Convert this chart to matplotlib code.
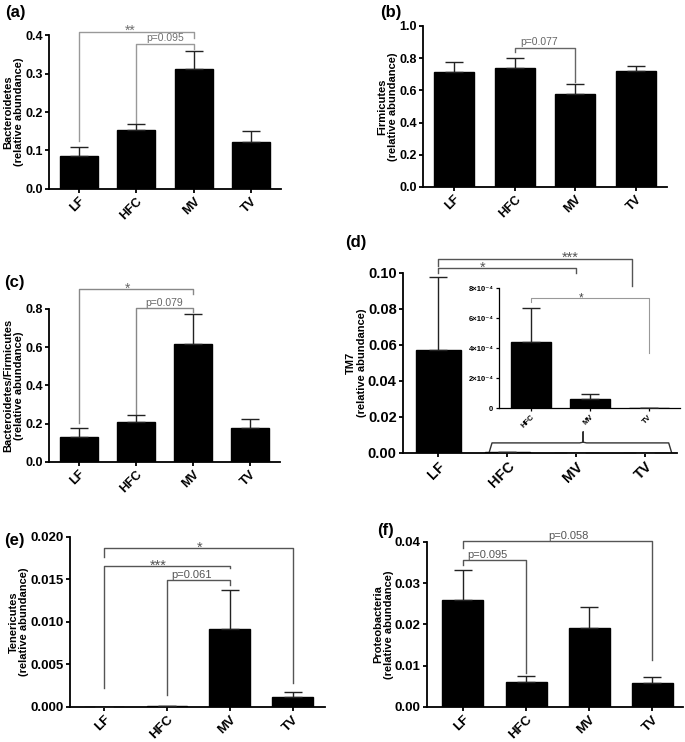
import matplotlib
matplotlib.use("Agg")
import matplotlib.pyplot as plt

plt.rcParams['font.family'] = ['Liberation Sans', 'DejaVu Sans']

groups = ["LF", "HFC", "MV", "TV"]
inset_groups = ["HFC", "MV", "TV"]

# relative abundances (mean) and upper error (SEM)
bacteroidetes = [0.087, 0.152, 0.311, 0.123]
bacteroidetes_err = [0.022, 0.016, 0.047, 0.027]

firmicutes = [0.715, 0.742, 0.578, 0.720]
firmicutes_err = [0.060, 0.058, 0.064, 0.030]

ratio_bf = [0.133, 0.210, 0.617, 0.180]
ratio_bf_err = [0.045, 0.035, 0.155, 0.046]

tm7 = [0.057, 0.00044, 0.00006, 0.0]
tm7_err = [0.0406, 0.00023, 0.000035, 0.0]

tm7_inset = [0.00044, 0.00006, 0.0]
tm7_inset_err = [0.00023, 0.000035, 0.0]

tenericutes = [0.0, 0.0001, 0.0092, 0.0012]
tenericutes_err = [0.0, 0.00003, 0.0046, 0.0006]

proteobacteria = [0.0259, 0.0060, 0.0191, 0.0058]
proteobacteria_err = [0.0073, 0.0015, 0.0052, 0.0014]

# brackets: (x1, x2, y, leg1 bottom, leg2 bottom, label, label x)
brackets_a = [(0, 2, 0.409, 0.125, 0.392, "**", 0.9),
              (1, 2, 0.377, 0.171, 0.363, "p=0.095", 1.5)]
brackets_b = [(1, 2, 0.865, 0.84, 0.655, "p=0.077", 1.4)]
brackets_c = [(0, 2, 0.905, 0.204, 0.88, "*", 0.85),
              (1, 2, 0.805, 0.245, 0.785, "p=0.079", 1.5)]
brackets_d = [(0, 2, 0.1028, 0.1, 0.1, "*", 0.64),
              (0, 2.81, 0.108, 0.104, 0.093, "***", 1.91)]
brackets_inset = [(0, 2, 0.000733, 0.00071, 0.000367, "*", 0.85)]
brackets_e = [(0, 3, 0.0187, 0.01765, 0.0028, "*", 1.52),
              (0, 2, 0.0166, 0.0022, 0.0163, "***", 0.86),
              (1, 2, 0.0149, 0.0014, 0.0143, "p=0.061", 1.39)]
brackets_f = [(0, 3, 0.0402, 0.0385, 0.0114, "p=0.058", 1.68),
              (0, 1, 0.0356, 0.0344, 0.0082, "p=0.095", 0.38)]


def draw_brackets(ax, brackets, color, fs, text_color=None, lw=1.0):
    tc = text_color or color
    for x1, x2, y, b1, b2, label, lx in brackets:
        ax.plot([x1, x1, x2, x2], [b1, y, y, b2], color=color, lw=lw, clip_on=False)
        if label.startswith("*"):
            # asterisks sit high in the font, so anchor them on the baseline
            ax.annotate(label, (lx, y), xytext=(0, -2.5), textcoords="offset points",
                        ha="center", va="baseline", fontsize=fs + 2.5, color=tc,
                        annotation_clip=False)
        else:
            ax.annotate(label, (lx, y), xytext=(0, 0.3), textcoords="offset points",
                        ha="center", va="bottom", fontsize=fs, color=tc,
                        annotation_clip=False)


def bar_panel(ax, values, errs, xlim, ylim, yticks, fmt, ylabel, labels=groups,
              width=0.66, tick_fs=9, spine_lw=1.3):
    x = list(range(len(values)))
    ax.bar(x, values, width=width, color="black", edgecolor="black", zorder=2)
    ax.errorbar(x, values, yerr=[[0] * len(errs), errs], fmt="none", ecolor="#222222",
                elinewidth=1.0, capsize=6.5, capthick=1.0, zorder=3)
    ax.set_xlim(*xlim)
    ax.set_ylim(*ylim)
    ax.set_yticks(yticks)
    ax.set_yticklabels([fmt.format(t) for t in yticks], fontsize=tick_fs, fontweight="bold")
    ax.set_xticks(x)
    ax.set_xticklabels(labels, rotation=45, ha="right", rotation_mode="anchor",
                       fontsize=tick_fs, fontweight="bold")
    for s in ["top", "right"]:
        ax.spines[s].set_visible(False)
    for s in ["left", "bottom"]:
        ax.spines[s].set_linewidth(spine_lw)
    ax.tick_params(width=spine_lw, length=3, pad=1.5)
    if ylabel:
        ax.set_ylabel(ylabel, fontsize=8, fontweight="bold", labelpad=0.8,
                      linespacing=1.05)


fig = plt.figure(figsize=(6.85, 7.42), dpi=100)

# (a)
ax_a = fig.add_axes([0.0715, 0.7453, 0.3387, 0.2075])
bar_panel(ax_a, bacteroidetes, bacteroidetes_err, (-0.52, 3.52), (0, 0.4),
          [0, 0.1, 0.2, 0.3, 0.4], "{:.1f}", "Bacteroidetes\n(relative abundance)")
draw_brackets(ax_a, brackets_a, "#999999", 7.5, text_color="#707070")

# (b)
ax_b = fig.add_axes([0.6175, 0.748, 0.3562, 0.217])
bar_panel(ax_b, firmicutes, firmicutes_err, (-0.51, 3.51), (0, 1.0),
          [0, 0.2, 0.4, 0.6, 0.8, 1.0], "{:.1f}", "Firmicutes\n(relative abundance)")
draw_brackets(ax_b, brackets_b, "#666666", 7.5)

# (c)
ax_c = fig.add_axes([0.0715, 0.3774, 0.3372, 0.2062])
bar_panel(ax_c, ratio_bf, ratio_bf_err, (-0.52, 3.52), (0, 0.8),
          [0, 0.2, 0.4, 0.6, 0.8], "{:.1f}", "Bacteroidetes/Firmicutes\n(relative abundance)")
draw_brackets(ax_c, brackets_c, "#888888", 7.5, text_color="#666666")

# (d)
ax_d = fig.add_axes([0.5883, 0.3895, 0.40, 0.2426])
bar_panel(ax_d, tm7, tm7_err, (-0.51, 3.46), (0, 0.10),
          [0, 0.02, 0.04, 0.06, 0.08, 0.10], "{:.2f}", "TM7\n(relative abundance)",
          width=0.65, tick_fs=10.5)
draw_brackets(ax_d, brackets_d, "#555555", 8)
# brace under the inset
bx = [0.74, 0.78, 2.05, 2.1, 2.1, 2.1, 2.15, 3.34, 3.38]
by = [0.0005, 0.0056, 0.0056, 0.0060, 0.0117, 0.0060, 0.0056, 0.0056, 0.0005]
ax_d.plot(bx, by, color="#333333", lw=1.0)

ax_in = fig.add_axes([0.7285, 0.4501, 0.2642, 0.1617])
bar_panel(ax_in, tm7_inset, tm7_inset_err, (-0.54, 2.53), (0, 0.0008),
          [0, 0.0002, 0.0004, 0.0006, 0.0008], "{}", None, labels=inset_groups,
          width=0.68, tick_fs=5.5, spine_lw=0.9)
ax_in.set_yticklabels(["0", "2×10⁻⁴", "4×10⁻⁴", "6×10⁻⁴", "8×10⁻⁴"],
                      fontsize=5.5, fontweight="bold")
ax_in.tick_params(length=2.5, pad=1.5)
ax_in.patch.set_alpha(0)
draw_brackets(ax_in, brackets_inset, "#999999", 6, text_color="#444444", lw=0.8)

# (e)
ax_e = fig.add_axes([0.1022, 0.0472, 0.3723, 0.2291])
bar_panel(ax_e, tenericutes, tenericutes_err, (-0.54, 3.51), (0, 0.020),
          [0, 0.005, 0.010, 0.015, 0.020], "{:.3f}", "Tenericutes\n(relative abundance)",
          width=0.65, tick_fs=9.5)
draw_brackets(ax_e, brackets_e, "#555555", 8)

# (f)
ax_f = fig.add_axes([0.6234, 0.0472, 0.3737, 0.2224])
bar_panel(ax_f, proteobacteria, proteobacteria_err, (-0.57, 3.49), (0, 0.04),
          [0, 0.01, 0.02, 0.03, 0.04], "{:.2f}", "Proteobacteria\n(relative abundance)",
          width=0.65, tick_fs=9.5)
draw_brackets(ax_f, brackets_f, "#555555", 8)

# panel letters
for lab, px, py in [("(a)", 5, 12), ("(b)", 380, 12), ("(c)", 4, 283),
                    ("(d)", 345, 243), ("(e)", 4, 540), ("(f)", 377, 531)]:
    fig.text(px / 685, 1 - py / 742, lab, fontsize=12, fontweight="bold",
             ha="left", va="center")

fig.savefig("out.png", dpi=100)
